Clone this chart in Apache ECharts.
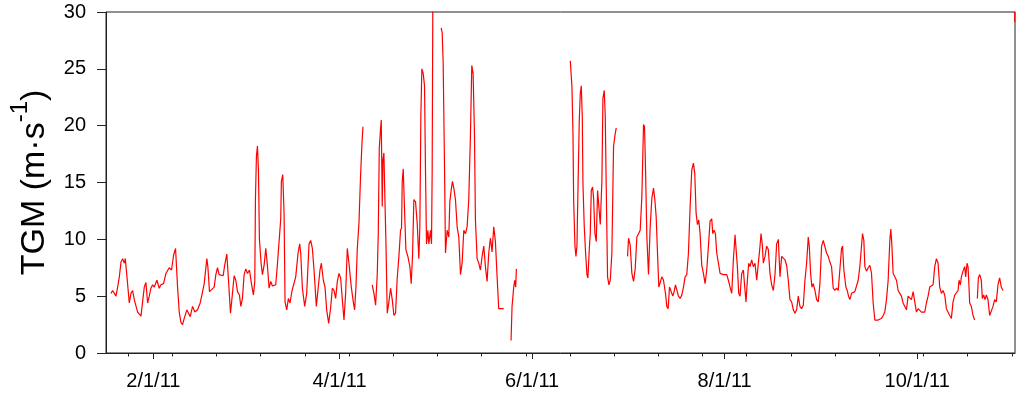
<!DOCTYPE html>
<html>
<head>
<meta charset="utf-8">
<script src="https://cdn.jsdelivr.net/npm/echarts@6/dist/echarts.min.js"></script>
<style>
html,body{margin:0;padding:0;background:#fff;}
#chart{width:1024px;height:399px;}
</style>
</head>
<body>
<div id="chart"></div>
<script>
// x values: day of year 2011 (Jan 1 = 1); null value = gap in record
var days = [
18.58,19.11,20.16,20.69,21.22,21.75,22.27,22.80,23.12,23.64,24.38,24.91,25.44,25.96,27.02,28.07,28.6,29.13,29.65,30.18,
30.71,31.24,31.76,32.29,33.13,33.87,34.40,35.24,35.98,36.51,37.04,37.77,38.41,39.04,39.67,40.2,40.73,41.25,41.78,42.62,
43.15,43.68,44.42,45.16,46.0,46.84,47.37,48.11,48.95,49.27,49.79,50.53,51.27,51.8,52.33,52.85,53.38,54.12,54.65,55.28,
55.81,56.44,57.07,57.6,58.13,58.65,59.28,59.71,60.23,60.76,61.29,61.82,62.45,63.08,63.71,64.14,64.35,64.66,64.98,65.3,
65.61,66.14,66.56,67.09,67.62,68.14,68.67,69.2,69.72,70.25,70.78,71.31,71.83,72.36,72.57,73.0,73.42,73.73,74.26,74.79,
75.31,75.95,76.58,77.11,77.85,78.37,78.69,79.22,79.95,80.59,81.33,81.85,82.38,82.91,83.64,84.17,84.8,85.23,85.86,86.39,
86.91,87.55,88.18,88.71,89.23,89.76,90.29,90.82,91.34,91.87,92.4,92.93,93.45,93.98,94.72,95.35,95.77,96.19,96.62,97.14,
97.67,98.09,98.41,
100,
101.36,101.89,102.42,102.94,103.26,103.58,104.0,104.21,104.52,104.74,105.05,105.37,105.68,106.11,106.63,107.16,107.69,108.22,108.74,109.27,
109.8,110.32,110.64,110.85,111.17,111.48,112.01,112.64,113.28,113.7,114.12,114.54,115.07,115.6,116.12,116.44,116.76,117.07,117.5,117.92,
118.23,118.55,118.97,119.29,119.82,120.13,120.34,120.55,
121.9,
123.19,123.51,123.82,124.24,124.56,125.09,125.61,125.93,126.35,126.77,127.2,127.72,128.25,128.78,129.31,129.83,130.36,130.89,131.41,131.94,
132.47,132.89,133.31,133.74,134.05,134.58,135.11,135.63,136.16,136.69,137.21,137.74,138.27,138.8,139.32,139.85,140.38,140.91,141.43,141.96,
142.49,143.01,
144,
145.33,145.65,146.18,146.49,146.81,147.02,
155,
164.1,164.63,164.95,165.16,165.58,165.9,166.21,166.53,166.95,167.27,167.58,167.9,168.11,168.53,168.95,169.38,169.69,170.11,170.43,170.75,
171.17,171.49,171.91,172.33,172.75,173.17,173.6,174.12,174.44,174.86,175.18,175.49,175.91,176.34,176.76,177.28,177.81,178.34,178.66,
180,
182.24,182.56,183.08,183.61,184.14,184.67,185.19,185.72,186.25,186.78,187.3,187.62,187.94,188.36,188.88,189.41,189.94,190.47,190.89,191.31,
191.73,192.15,192.58,193.1,193.63,194.26,194.68,195.11,195.53,196.05,196.58,197.0,197.43,197.85,198.37,198.9,199.43,199.96,200.48,201.01,
201.54,202.07,202.59,203.12,203.54,203.96,204.39,204.81,205.23,205.76,206.28,206.81,207.34,207.87,208.39,208.92,209.24,209.66,210.08,210.5,
211.03,211.56,212.08,212.61,213.14,213.67,214.19,214.72,215.25,215.77,216.3,216.62,217.04,217.46,217.88,218.41,218.94,219.46,219.78,220.2,
220.63,221.05,221.57,222.1,222.63,223.16,223.68,224.21,224.53,224.95,225.26,225.79,226.32,226.85,227.37,227.9,228.43,228.96,229.48,230.01,
230.54,231.07,231.59,232.12,232.65,233.17,233.7,234.23,234.76,235.28,235.81,236.34,236.86,237.39,237.92,238.45,238.97,239.5,239.82,240.24,
240.66,241.08,241.61,242.14,242.66,243.19,243.72,244.25,244.77,245.3,245.83,246.35,246.88,247.41,247.94,248.46,248.99,249.52,250.04,250.36,
250.78,251.42,251.84,252.26,252.68,253.21,253.74,254.26,254.79,255.32,255.84,256.37,256.69,257.11,257.43,257.95,258.48,259.01,259.54,260.06,
260.59,261.12,261.64,262.17,262.7,263.23,263.75,264.28,264.81,265.34,265.65,265.97,266.39,266.92,267.44,267.97,268.5,269.03,269.55,270.08,
270.61,271.13,271.66,272.19,272.72,273.24,273.77,274.3,274.83,275.35,275.88,276.41,276.93,277.46,277.99,278.52,279.04,279.57,280.1,280.63,
281.15,281.68,282.21,282.73,283.26,283.79,284.32,284.84,285.37,285.9,286.43,286.95,287.27,287.69,288.01,288.53,289.06,289.38,289.8,290.12,
290.43,290.64,291.17,291.7,292.22,
292.6,
293.07,293.39,293.81,294.33,294.65,295.07,295.49,295.92,296.44,296.97,297.5,298.03,298.55,299.08,299.61,300.13,300.66,301.19,
303,
304.9,305
];
var tgm = [
5.25,5.5,5.0,5.8,6.7,8.0,8.3,7.9,8.3,6.7,4.4,5.25,5.5,4.7,3.6,3.25,3.3,5.8,6.2,4.4,
5.0,5.7,6.0,5.8,6.4,5.7,6.0,6.1,7.0,7.0,7.5,7.3,8.6,9.2,5.8,3.6,2.7,2.5,3.05,3.8,
3.5,3.2,4.1,3.6,3.8,4.4,5.1,6.1,8.3,7.6,5.4,5.6,5.8,6.9,7.5,6.9,7.0,6.8,7.8,8.7,
6.4,3.5,5.25,6.8,6.4,5.4,5.1,4.1,4.8,6.9,7.4,7.0,7.3,6.1,5.1,6.3,13.6,17.3,18.2,16.1,
10.0,7.9,6.9,7.7,9.2,7.7,5.7,6.3,5.9,5.8,6.0,7.8,7.9,11.8,15.1,15.7,12.3,4.5,3.8,4.8,
4.4,5.5,5.4,6.7,8.8,9.6,8.8,5.7,4.1,5.25,9.6,9.9,9.2,7.3,4.1,4.1,7.3,7.9,6.4,5.8,
3.8,2.6,4.0,5.7,5.5,4.8,6.3,7.0,6.6,4.7,2.9,5.25,9.2,7.9,5.8,4.5,3.8,5.8,9.2,11.4,
15.7,18.4,19.9,
null,
6.0,5.25,4.2,6.9,10.5,18.0,19.8,20.5,12.9,17.0,17.6,13.5,9.9,3.5,4.5,5.7,4.7,3.3,3.5,6.6,
8.5,10.8,11.0,15.1,16.2,13.5,9.1,8.5,7.6,6.1,8.6,13.5,13.3,11.4,8.3,11.1,20.9,25.0,24.6,23.5,
16.0,9.6,10.8,9.6,10.8,9.6,16.0,31.0,
null,
28.6,28.2,25.6,16.7,8.8,10.8,10.2,13.3,14.3,15.1,14.5,13.5,11.1,10.2,6.9,7.9,10.8,10.5,11.1,13.5,
19.2,25.3,24.6,19.3,11.7,8.3,7.9,7.3,8.5,9.4,7.6,6.3,8.8,10.1,8.9,11.1,9.8,6.7,3.9,3.8,
3.9,3.9,
null,
1.1,4.1,5.8,6.4,5.8,7.4,
null,
25.7,23.4,19.3,13.5,9.4,8.5,9.4,14.3,20.5,22.8,23.5,20.8,14.9,11.1,8.8,6.9,6.6,9.1,10.5,14.3,
14.6,13.6,10.5,9.8,14.3,14.2,11.3,15.2,22.4,23.1,20.8,14.6,6.7,6.0,6.4,8.8,18.2,19.3,19.8,
null,
8.5,10.1,9.5,7.0,6.3,7.4,10.2,10.5,10.8,13.8,20.1,19.9,16.2,10.2,6.9,11.1,13.6,14.5,13.5,12.0,
8.8,5.8,5.8,6.7,6.4,5.25,4.1,3.9,5.8,5.7,5.0,5.4,6.0,6.1,5.0,4.8,5.1,5.8,6.7,6.9,
8.8,12.9,16.1,16.7,15.8,12.3,11.3,11.7,10.5,7.7,7.0,6.1,7.3,9.4,11.6,11.8,10.5,10.8,10.5,8.8,
7.9,7.0,6.9,6.9,7.0,6.9,6.4,5.8,5.25,8.2,10.4,10.5,7.6,5.25,5.0,7.0,7.3,5.5,4.5,6.4,
7.9,7.6,8.2,7.6,7.9,6.4,6.4,9.4,10.5,9.5,7.9,8.5,9.4,9.1,7.0,6.0,5.5,6.9,9.6,10.0,
6.7,8.5,8.6,8.2,7.7,6.4,4.7,4.5,3.8,3.5,3.8,5.0,4.1,3.9,4.2,6.4,7.9,10.2,9.4,7.0,
5.8,6.1,5.5,4.7,4.5,6.1,9.4,9.9,9.8,8.8,8.5,8.0,7.6,5.7,5.5,5.7,5.5,5.4,9.2,9.4,
7.3,5.8,5.5,5.0,4.7,5.25,5.25,5.4,5.25,6.4,7.6,9.4,10.5,9.9,7.6,7.2,7.5,7.7,7.0,4.4,
2.9,2.95,2.9,2.75,3.05,3.3,3.6,4.7,6.4,9.9,10.9,9.6,7.0,6.7,6.4,5.5,5.25,5.0,4.4,4.1,
3.8,5.0,5.1,4.7,5.4,5.25,3.6,3.9,3.9,3.6,3.5,3.6,4.4,5.0,5.8,5.8,6.0,7.6,8.3,7.9,
5.8,5.25,5.5,5.1,3.9,3.8,3.3,3.05,4.5,5.1,5.25,5.5,6.4,6.0,6.7,7.2,7.6,6.7,7.9,7.6,
5.8,4.4,4.1,3.3,2.9,
null,
4.8,6.6,6.9,6.4,4.8,5.1,4.7,5.1,4.7,3.3,3.3,4.1,4.7,4.5,6.0,6.6,5.8,5.5,
null,
29.1,31
];
var majorTickDays = [32, 91, 152, 213, 274];
var majorTickLabels = ['2/1/11', '4/1/11', '6/1/11', '8/1/11', '10/1/11'];
var minorTickDays = [24, 38, 52, 66, 80, 94, 108, 122, 136, 150, 164, 178, 192, 206, 220, 234, 248, 262, 276, 290, 304];
var yTicks = [0, 5, 10, 15, 20, 25, 30];

var seriesData = days.map(function (d, i) { return [d, tgm[i]]; });
var labelMap = {};
majorTickDays.forEach(function (d, i) { labelMap[d] = majorTickLabels[i]; });

var FONT = 'Liberation Sans, Arial, sans-serif';
var chart = echarts.init(document.getElementById('chart'));
chart.setOption({
  animation: false,
  grid: { left: 106, right: 9, top: 12, bottom: 46, show: true, borderColor: '#222', borderWidth: 1, backgroundColor: 'transparent' },
  xAxis: [{
    type: 'value', min: 17, max: 305,
    axisLine: { show: true, lineStyle: { color: '#222', width: 1 } },
    splitLine: { show: false },
    axisTick: { show: true, customValues: majorTickDays, length: 6, lineStyle: { color: '#222' } },
    axisLabel: {
      customValues: majorTickDays, fontSize: 20, fontFamily: FONT, color: '#000', margin: 18,
      formatter: function (v) { return labelMap[v] || ''; }
    }
  }, {
    type: 'value', min: 17, max: 305, position: 'bottom',
    axisLine: { show: false },
    splitLine: { show: false },
    axisTick: { show: true, customValues: minorTickDays, length: 3.5, lineStyle: { color: '#222' } },
    axisLabel: { show: false }
  }],
  yAxis: {
    type: 'value', min: 0, max: 30, interval: 5,
    axisLine: { show: true, lineStyle: { color: '#222', width: 1 } },
    splitLine: { show: false },
    axisTick: { show: true, length: 9, lineStyle: { color: '#222' } },
    axisLabel: { fontSize: 20, fontFamily: FONT, color: '#000', margin: 20 },
    name: '{a|TGM (m·s}{b|-1}{a|)}',
    nameLocation: 'middle', nameRotate: 90, nameGap: 54,
    nameTextStyle: {
      rich: {
        a: { fontSize: 34, fontFamily: FONT, color: '#000', verticalAlign: 'bottom', lineHeight: 44 },
        b: { fontSize: 24, fontFamily: FONT, color: '#000', verticalAlign: 'top', lineHeight: 44 }
      }
    }
  },
  series: [{
    type: 'line', xAxisIndex: 0, data: seriesData, showSymbol: false, connectNulls: false, clip: true,
    lineStyle: { color: '#ff0000', width: 1.2 }, itemStyle: { color: '#ff0000' }
  }]
});
</script>
</body>
</html>
